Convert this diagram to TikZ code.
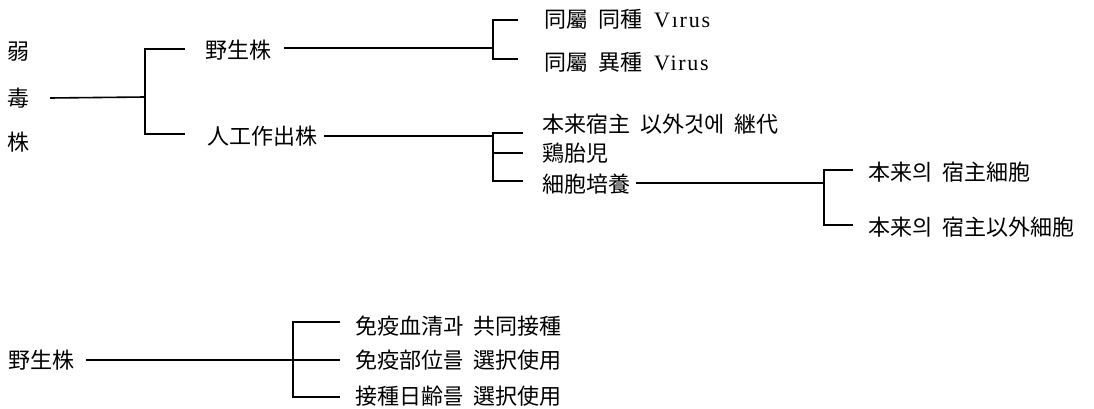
\documentclass[tikz,border=0pt]{standalone}
\usepackage{fontspec}
\setmainfont{Liberation Serif}
\newfontfamily\cjk{Noto Sans CJK KR}
\newfontfamily\lat{Liberation Serif}[LetterSpace=8]
\begin{document}
\begin{tikzpicture}[x=1pt,y=-1pt,
  lbl/.style={anchor=west,inner sep=0pt,font=\cjk\fontsize{22}{24}\selectfont},
  ch/.style={inner sep=0pt,font=\cjk\fontsize{22}{24}\selectfont},
  conn/.style={line width=1.6pt,line cap=butt,line join=miter}]
\useasboundingbox (0,0) rectangle (1094,409);

% ---- texts, upper tree
\node[ch] (r1) at (19,52) {弱};
\node[ch] (r2) at (19,98) {毒};
\node[ch] (r3) at (19,142) {株};
\node[lbl] (ws) at (205,50) {野生株};
\node[lbl] (ar) at (207,136) {人工作出株};
\node[lbl] (v1) at (544,19) {同屬\hspace{10pt}同種\hspace{12pt}{\lat\fontsize{22}{24}\selectfont Vırus}};
\node[lbl] (v2) at (544,62) {同屬\hspace{10pt}異種\hspace{12pt}{\lat\fontsize{22}{24}\selectfont Virus}};
\node[lbl] (t1) at (542,124) {本来宿主\hspace{10pt}以外것에\hspace{10pt}継代};
\node[lbl] (t2) at (542,153) {鶏胎児};
\node[lbl] (t3) at (542,184) {細胞培養};
\node[lbl] (h1) at (868,172) {本来의\hspace{10pt}宿主細胞};
\node[lbl] (h2) at (868,227) {本来의\hspace{10pt}宿主以外細胞};

% ---- texts, lower tree
\node[lbl] (w2) at (8,360) {野生株};
\node[lbl] (s1) at (355,326) {免疫血清과\hspace{10pt}共同接種};
\node[lbl] (s2) at (355,360) {免疫部位를\hspace{10pt}選択使用};
\node[lbl] (s3) at (355,396) {接種日齢를\hspace{10pt}選択使用};

% ---- junctions and branch ends
\coordinate (j1) at (145,97);
\coordinate (b11) at (185,49);
\coordinate (b12) at (185,134);
\coordinate (j2) at (493,48);
\coordinate (b21) at (518,20);
\coordinate (b22) at (518,59);
\coordinate (j3) at (493,136);
\coordinate (b31) at (523,133);
\coordinate (b32) at (523,153);
\coordinate (b33) at (523,181);
\coordinate (j4) at (824,183);
\coordinate (b41) at (853,170);
\coordinate (b42) at (853,225);
\coordinate (j5) at (293,360);
\coordinate (b51) at (340,322);
\coordinate (b52) at (340,360);
\coordinate (b53) at (340,397);

% ---- connectors
\draw[conn] ([xshift=20pt]r2.east) -- (j1);
\draw[conn] (b11) -| (j1) |- (b12);
\draw[conn] ([xshift=13pt]ws.east |- j2) -- (j2);
\draw[conn] (b21) -| (j2) |- (b22);
\draw[conn] ([xshift=7pt]ar.east) -- (j3);
\draw[conn] (b31) -| (j3) |- (b33);
\draw[conn] (j3 |- b32) -- (b32);
\draw[conn] ([xshift=6pt]t3.east |- j4) -- (j4);
\draw[conn] (b41) -| (j4) |- (b42);
\draw[conn] ([xshift=12pt]w2.east) -- (j5);
\draw[conn] (b51) -| (j5) |- (b53);
\draw[conn] (j5) -- (b52);
\end{tikzpicture}
\end{document}
